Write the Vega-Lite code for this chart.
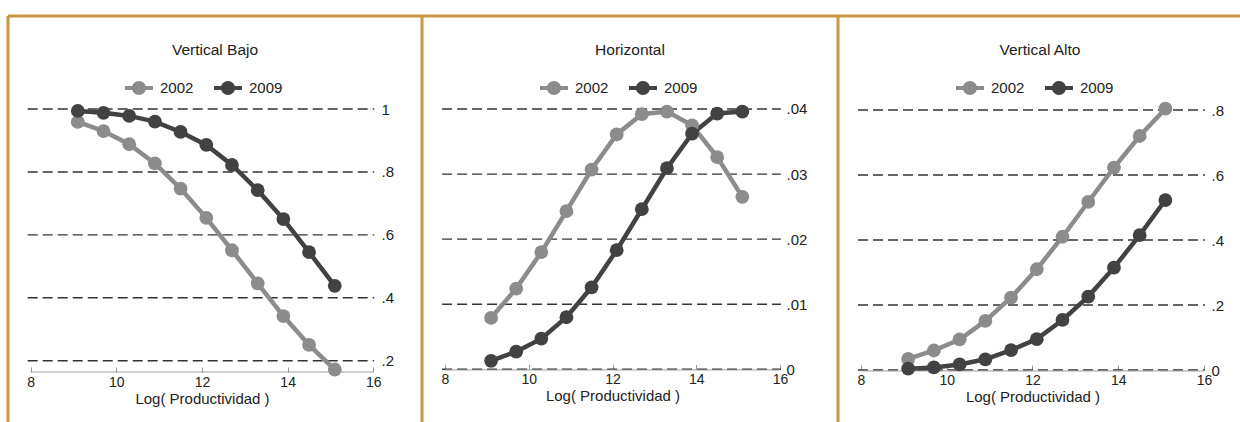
{
  "$schema": "https://vega.github.io/schema/vega-lite/v6.json",
  "background": "white",
  "padding": {"left": 6, "top": 14, "right": 0, "bottom": 0},
  "spacing": 0,
  "bounds": "flush",
  "datasets": {
    "curves": [
      {"p": "VB", "year": "2002", "x": 9.1, "y": 0.959},
      {"p": "VB", "year": "2002", "x": 9.7, "y": 0.930},
      {"p": "VB", "year": "2002", "x": 10.3, "y": 0.888},
      {"p": "VB", "year": "2002", "x": 10.9, "y": 0.827},
      {"p": "VB", "year": "2002", "x": 11.5, "y": 0.747},
      {"p": "VB", "year": "2002", "x": 12.1, "y": 0.654},
      {"p": "VB", "year": "2002", "x": 12.7, "y": 0.551},
      {"p": "VB", "year": "2002", "x": 13.3, "y": 0.446},
      {"p": "VB", "year": "2002", "x": 13.9, "y": 0.342},
      {"p": "VB", "year": "2002", "x": 14.5, "y": 0.250},
      {"p": "VB", "year": "2002", "x": 15.1, "y": 0.172},
      {"p": "VB", "year": "2009", "x": 9.1, "y": 0.994},
      {"p": "VB", "year": "2009", "x": 9.7, "y": 0.988},
      {"p": "VB", "year": "2009", "x": 10.3, "y": 0.978},
      {"p": "VB", "year": "2009", "x": 10.9, "y": 0.960},
      {"p": "VB", "year": "2009", "x": 11.5, "y": 0.927},
      {"p": "VB", "year": "2009", "x": 12.1, "y": 0.886},
      {"p": "VB", "year": "2009", "x": 12.7, "y": 0.822},
      {"p": "VB", "year": "2009", "x": 13.3, "y": 0.742},
      {"p": "VB", "year": "2009", "x": 13.9, "y": 0.650},
      {"p": "VB", "year": "2009", "x": 14.5, "y": 0.545},
      {"p": "VB", "year": "2009", "x": 15.1, "y": 0.438},
      {"p": "H", "year": "2002", "x": 9.1, "y": 0.0079},
      {"p": "H", "year": "2002", "x": 9.7, "y": 0.0124},
      {"p": "H", "year": "2002", "x": 10.3, "y": 0.0180},
      {"p": "H", "year": "2002", "x": 10.9, "y": 0.0243},
      {"p": "H", "year": "2002", "x": 11.5, "y": 0.0307},
      {"p": "H", "year": "2002", "x": 12.1, "y": 0.0361},
      {"p": "H", "year": "2002", "x": 12.7, "y": 0.0392},
      {"p": "H", "year": "2002", "x": 13.3, "y": 0.0396},
      {"p": "H", "year": "2002", "x": 13.9, "y": 0.0375},
      {"p": "H", "year": "2002", "x": 14.5, "y": 0.0326},
      {"p": "H", "year": "2002", "x": 15.1, "y": 0.0265},
      {"p": "H", "year": "2009", "x": 9.1, "y": 0.0013},
      {"p": "H", "year": "2009", "x": 9.7, "y": 0.0027},
      {"p": "H", "year": "2009", "x": 10.3, "y": 0.0047},
      {"p": "H", "year": "2009", "x": 10.9, "y": 0.0080},
      {"p": "H", "year": "2009", "x": 11.5, "y": 0.0126},
      {"p": "H", "year": "2009", "x": 12.1, "y": 0.0183},
      {"p": "H", "year": "2009", "x": 12.7, "y": 0.0246},
      {"p": "H", "year": "2009", "x": 13.3, "y": 0.0309},
      {"p": "H", "year": "2009", "x": 13.9, "y": 0.0362},
      {"p": "H", "year": "2009", "x": 14.5, "y": 0.0393},
      {"p": "H", "year": "2009", "x": 15.1, "y": 0.0396},
      {"p": "VA", "year": "2002", "x": 9.1, "y": 0.034},
      {"p": "VA", "year": "2002", "x": 9.7, "y": 0.060},
      {"p": "VA", "year": "2002", "x": 10.3, "y": 0.094},
      {"p": "VA", "year": "2002", "x": 10.9, "y": 0.151},
      {"p": "VA", "year": "2002", "x": 11.5, "y": 0.223},
      {"p": "VA", "year": "2002", "x": 12.1, "y": 0.310},
      {"p": "VA", "year": "2002", "x": 12.7, "y": 0.410},
      {"p": "VA", "year": "2002", "x": 13.3, "y": 0.517},
      {"p": "VA", "year": "2002", "x": 13.9, "y": 0.623},
      {"p": "VA", "year": "2002", "x": 14.5, "y": 0.720},
      {"p": "VA", "year": "2002", "x": 15.1, "y": 0.804},
      {"p": "VA", "year": "2009", "x": 9.1, "y": 0.004},
      {"p": "VA", "year": "2009", "x": 9.7, "y": 0.008},
      {"p": "VA", "year": "2009", "x": 10.3, "y": 0.017},
      {"p": "VA", "year": "2009", "x": 10.9, "y": 0.033},
      {"p": "VA", "year": "2009", "x": 11.5, "y": 0.061},
      {"p": "VA", "year": "2009", "x": 12.1, "y": 0.095},
      {"p": "VA", "year": "2009", "x": 12.7, "y": 0.154},
      {"p": "VA", "year": "2009", "x": 13.3, "y": 0.226},
      {"p": "VA", "year": "2009", "x": 13.9, "y": 0.315},
      {"p": "VA", "year": "2009", "x": 14.5, "y": 0.415},
      {"p": "VA", "year": "2009", "x": 15.1, "y": 0.523}
    ],
    "grid": [
      {"p": "VB", "y": 0.2}, {"p": "VB", "y": 0.4}, {"p": "VB", "y": 0.6}, {"p": "VB", "y": 0.8}, {"p": "VB", "y": 1},
      {"p": "H", "y": 0}, {"p": "H", "y": 0.01}, {"p": "H", "y": 0.02}, {"p": "H", "y": 0.03}, {"p": "H", "y": 0.04},
      {"p": "VA", "y": 0}, {"p": "VA", "y": 0.2}, {"p": "VA", "y": 0.4}, {"p": "VA", "y": 0.6}, {"p": "VA", "y": 0.8}
    ]
  },
  "hconcat": [
    {
      "width": 414, "height": 406,
      "view": {"stroke": "#c8963e", "strokeWidth": 3, "strokeDash": [414, 820, 406, 0], "fill": "white"},
      "title": {"text": "Vertical Bajo", "anchor": "middle", "frame": "group", "offset": -49, "baseline": "middle", "fontSize": 15.5, "fontWeight": "normal", "color": "#222"},
      "layer": [
        {
          "data": {"name": "grid"}, "transform": [{"filter": "datum.p == 'VB'"}],
          "mark": {"type": "rule", "color": "#333", "strokeWidth": 1.4, "strokeDash": [10, 5]},
          "encoding": {
            "x": {"datum": 7.93, "type": "quantitative", "scale": {"domain": [7.470, 17.137], "nice": false, "zero": false},
                  "axis": {"values": [8, 10, 12, 14, 16], "domain": false, "grid": false, "tickSize": -5, "tickColor": "#999", "labelFontSize": 14, "labelColor": "#222", "labelFlush": false, "labelOverlap": false, "labelPadding": 8, "offset": -50, "title": "Log( Productividad )", "titleFontSize": 15, "titleFontWeight": "normal", "titleColor": "#222", "titleX": 194, "titleY": 19, "titleBaseline": "top"}},
            "x2": {"datum": 16.02},
            "y": {"field": "y", "type": "quantitative", "scale": {"domain": [0.00515, 1.2956], "nice": false, "zero": false},
                  "axis": {"orient": "right", "values": [0.2, 0.4, 0.6, 0.8, 1], "domain": false, "ticks": false, "grid": false, "labelFontSize": 15, "labelColor": "#222", "labelAlign": "left", "labelBaseline": "middle", "labelPadding": 0, "offset": -41, "title": null, "labelExpr": "datum.value == 0 ? '0' : datum.value < 1 ? substring(toString(datum.value), 1) : toString(datum.value)"}}
          }
        },
        {
          "data": {"values": [{}]},
          "mark": {"type": "rule", "color": "#a0a0a0", "strokeWidth": 1},
          "encoding": {
            "x": {"datum": 8, "type": "quantitative", "scale": {"domain": [7.470, 17.137], "nice": false, "zero": false},
                  "axis": {"values": [8, 10, 12, 14, 16], "domain": false, "grid": false, "tickSize": -5, "tickColor": "#999", "labelFontSize": 14, "labelColor": "#222", "labelFlush": false, "labelOverlap": false, "labelPadding": 8, "offset": -50, "title": "Log( Productividad )", "titleFontSize": 15, "titleFontWeight": "normal", "titleColor": "#222", "titleX": 194, "titleY": 19, "titleBaseline": "top"}},
            "x2": {"datum": 16},
            "y": {"datum": 0.164, "type": "quantitative", "scale": {"domain": [0.00515, 1.2956], "nice": false, "zero": false},
                  "axis": {"orient": "right", "values": [0.2, 0.4, 0.6, 0.8, 1], "domain": false, "ticks": false, "grid": false, "labelFontSize": 15, "labelColor": "#222", "labelAlign": "left", "labelBaseline": "middle", "labelPadding": 0, "offset": -41, "title": null, "labelExpr": "datum.value == 0 ? '0' : datum.value < 1 ? substring(toString(datum.value), 1) : toString(datum.value)"}}
          }
        },
        {
          "data": {"name": "curves"}, "transform": [{"filter": "datum.p == 'VB'"}],
          "mark": {"type": "line", "strokeWidth": 4.5},
          "encoding": {
            "x": {"field": "x", "type": "quantitative", "scale": {"domain": [7.470, 17.137], "nice": false, "zero": false},
                  "axis": {"values": [8, 10, 12, 14, 16], "domain": false, "grid": false, "tickSize": -5, "tickColor": "#999", "labelFontSize": 14, "labelColor": "#222", "labelFlush": false, "labelOverlap": false, "labelPadding": 8, "offset": -50, "title": "Log( Productividad )", "titleFontSize": 15, "titleFontWeight": "normal", "titleColor": "#222", "titleX": 194, "titleY": 19, "titleBaseline": "top"}},
            "y": {"field": "y", "type": "quantitative", "scale": {"domain": [0.00515, 1.2956], "nice": false, "zero": false},
                  "axis": {"orient": "right", "values": [0.2, 0.4, 0.6, 0.8, 1], "domain": false, "ticks": false, "grid": false, "labelFontSize": 15, "labelColor": "#222", "labelAlign": "left", "labelBaseline": "middle", "labelPadding": 0, "offset": -41, "title": null, "labelExpr": "datum.value == 0 ? '0' : datum.value < 1 ? substring(toString(datum.value), 1) : toString(datum.value)"}},
            "color": {"field": "year", "type": "nominal", "scale": {"domain": ["2002", "2009"], "range": ["#8c8c8e", "#414244"]},
                      "legend": {"title": null, "orient": "none", "legendX": 117, "legendY": 58, "direction": "horizontal", "columns": 2, "columnPadding": 20, "padding": 0, "labelOffset": 7, "labelFontSize": 15, "labelColor": "#222", "symbolType": "M-1,-0.15L1,-0.15L1,0.15L-1,0.15Z M-0.5,0A0.5,0.5 0 1,1 0.5,0A0.5,0.5 0 1,1 -0.5,0Z", "symbolSize": 784, "symbolStrokeWidth": 0,
                        "encode": {"symbols": {"update": {"fill": {"signal": "datum.value == '2002' ? '#8c8c8e' : '#414244'"}, "stroke": {"value": "transparent"}, "strokeWidth": {"value": 0}, "opacity": {"value": 1}, "size": {"value": 784}, "shape": {"value": "M-1,-0.15L1,-0.15L1,0.15L-1,0.15Z M-0.5,0A0.5,0.5 0 1,1 0.5,0A0.5,0.5 0 1,1 -0.5,0Z"}}}}}}
          }
        },
        {
          "data": {"name": "curves"}, "transform": [{"filter": "datum.p == 'VB'"}],
          "mark": {"type": "point", "filled": true, "size": 190, "opacity": 1},
          "encoding": {
            "x": {"field": "x", "type": "quantitative", "scale": {"domain": [7.470, 17.137], "nice": false, "zero": false},
                  "axis": {"values": [8, 10, 12, 14, 16], "domain": false, "grid": false, "tickSize": -5, "tickColor": "#999", "labelFontSize": 14, "labelColor": "#222", "labelFlush": false, "labelOverlap": false, "labelPadding": 8, "offset": -50, "title": "Log( Productividad )", "titleFontSize": 15, "titleFontWeight": "normal", "titleColor": "#222", "titleX": 194, "titleY": 19, "titleBaseline": "top"}},
            "y": {"field": "y", "type": "quantitative", "scale": {"domain": [0.00515, 1.2956], "nice": false, "zero": false},
                  "axis": {"orient": "right", "values": [0.2, 0.4, 0.6, 0.8, 1], "domain": false, "ticks": false, "grid": false, "labelFontSize": 15, "labelColor": "#222", "labelAlign": "left", "labelBaseline": "middle", "labelPadding": 0, "offset": -41, "title": null, "labelExpr": "datum.value == 0 ? '0' : datum.value < 1 ? substring(toString(datum.value), 1) : toString(datum.value)"}},
            "color": {"field": "year", "type": "nominal", "scale": {"domain": ["2002", "2009"], "range": ["#8c8c8e", "#414244"]},
                      "legend": {"title": null, "orient": "none", "legendX": 117, "legendY": 58, "direction": "horizontal", "columns": 2, "columnPadding": 20, "padding": 0, "labelOffset": 7, "labelFontSize": 15, "labelColor": "#222", "symbolType": "M-1,-0.15L1,-0.15L1,0.15L-1,0.15Z M-0.5,0A0.5,0.5 0 1,1 0.5,0A0.5,0.5 0 1,1 -0.5,0Z", "symbolSize": 784, "symbolStrokeWidth": 0,
                        "encode": {"symbols": {"update": {"fill": {"signal": "datum.value == '2002' ? '#8c8c8e' : '#414244'"}, "stroke": {"value": "transparent"}, "strokeWidth": {"value": 0}, "opacity": {"value": 1}, "size": {"value": 784}, "shape": {"value": "M-1,-0.15L1,-0.15L1,0.15L-1,0.15Z M-0.5,0A0.5,0.5 0 1,1 0.5,0A0.5,0.5 0 1,1 -0.5,0Z"}}}}}}
          }
        }
      ]
    },
    {
      "width": 416, "height": 406,
      "view": {"stroke": "#c8963e", "strokeWidth": 3, "strokeDash": [416, 822, 406, 0], "fill": "white"},
      "title": {"text": "Horizontal", "anchor": "middle", "frame": "group", "offset": -49, "baseline": "middle", "fontSize": 15.5, "fontWeight": "normal", "color": "#222"},
      "layer": [
        {
          "data": {"name": "grid"}, "transform": [{"filter": "datum.p == 'H'"}],
          "mark": {"type": "rule", "color": "#333", "strokeWidth": 1.4, "strokeDash": [10, 5]},
          "encoding": {
            "x": {"datum": 7.93, "type": "quantitative", "scale": {"domain": [7.4507, 17.385], "nice": false, "zero": false},
                  "axis": {"values": [8, 10, 12, 14, 16], "domain": false, "grid": false, "tickSize": -5, "tickColor": "#999", "labelFontSize": 14, "labelColor": "#222", "labelFlush": false, "labelOverlap": false, "labelPadding": 8, "offset": -52.5, "title": "Log( Productividad )", "titleFontSize": 15, "titleFontWeight": "normal", "titleColor": "#222", "titleX": 190.5, "titleY": 19, "titleBaseline": "top"}},
            "x2": {"datum": 16.02},
            "y": {"field": "y", "type": "quantitative", "scale": {"domain": [-0.008098, 0.054291], "nice": false, "zero": false},
                  "axis": {"orient": "right", "values": [0, 0.01, 0.02, 0.03, 0.04], "domain": false, "ticks": false, "grid": false, "labelFontSize": 15, "labelColor": "#222", "labelAlign": "left", "labelBaseline": "middle", "labelPadding": 0, "offset": -52, "title": null, "labelExpr": "datum.value == 0 ? '0' : datum.value < 1 ? substring(toString(datum.value), 1) : toString(datum.value)"}}
          }
        },
        {
          "data": {"values": [{}]},
          "mark": {"type": "rule", "color": "#a0a0a0", "strokeWidth": 1},
          "encoding": {
            "x": {"datum": 8, "type": "quantitative", "scale": {"domain": [7.4507, 17.385], "nice": false, "zero": false},
                  "axis": {"values": [8, 10, 12, 14, 16], "domain": false, "grid": false, "tickSize": -5, "tickColor": "#999", "labelFontSize": 14, "labelColor": "#222", "labelFlush": false, "labelOverlap": false, "labelPadding": 8, "offset": -52.5, "title": "Log( Productividad )", "titleFontSize": 15, "titleFontWeight": "normal", "titleColor": "#222", "titleX": 190.5, "titleY": 19, "titleBaseline": "top"}},
            "x2": {"datum": 16},
            "y": {"datum": -0.0001, "type": "quantitative", "scale": {"domain": [-0.008098, 0.054291], "nice": false, "zero": false},
                  "axis": {"orient": "right", "values": [0, 0.01, 0.02, 0.03, 0.04], "domain": false, "ticks": false, "grid": false, "labelFontSize": 15, "labelColor": "#222", "labelAlign": "left", "labelBaseline": "middle", "labelPadding": 0, "offset": -52, "title": null, "labelExpr": "datum.value == 0 ? '0' : datum.value < 1 ? substring(toString(datum.value), 1) : toString(datum.value)"}}
          }
        },
        {
          "data": {"name": "curves"}, "transform": [{"filter": "datum.p == 'H'"}],
          "mark": {"type": "line", "strokeWidth": 4.5},
          "encoding": {
            "x": {"field": "x", "type": "quantitative", "scale": {"domain": [7.4507, 17.385], "nice": false, "zero": false},
                  "axis": {"values": [8, 10, 12, 14, 16], "domain": false, "grid": false, "tickSize": -5, "tickColor": "#999", "labelFontSize": 14, "labelColor": "#222", "labelFlush": false, "labelOverlap": false, "labelPadding": 8, "offset": -52.5, "title": "Log( Productividad )", "titleFontSize": 15, "titleFontWeight": "normal", "titleColor": "#222", "titleX": 190.5, "titleY": 19, "titleBaseline": "top"}},
            "y": {"field": "y", "type": "quantitative", "scale": {"domain": [-0.008098, 0.054291], "nice": false, "zero": false},
                  "axis": {"orient": "right", "values": [0, 0.01, 0.02, 0.03, 0.04], "domain": false, "ticks": false, "grid": false, "labelFontSize": 15, "labelColor": "#222", "labelAlign": "left", "labelBaseline": "middle", "labelPadding": 0, "offset": -52, "title": null, "labelExpr": "datum.value == 0 ? '0' : datum.value < 1 ? substring(toString(datum.value), 1) : toString(datum.value)"}},
            "color": {"field": "year", "type": "nominal", "scale": {"domain": ["2002", "2009"], "range": ["#8c8c8e", "#414244"]},
                      "legend": {"title": null, "orient": "none", "legendX": 118, "legendY": 58, "direction": "horizontal", "columns": 2, "columnPadding": 20, "padding": 0, "labelOffset": 7, "labelFontSize": 15, "labelColor": "#222", "symbolType": "M-1,-0.15L1,-0.15L1,0.15L-1,0.15Z M-0.5,0A0.5,0.5 0 1,1 0.5,0A0.5,0.5 0 1,1 -0.5,0Z", "symbolSize": 784, "symbolStrokeWidth": 0,
                        "encode": {"symbols": {"update": {"fill": {"signal": "datum.value == '2002' ? '#8c8c8e' : '#414244'"}, "stroke": {"value": "transparent"}, "strokeWidth": {"value": 0}, "opacity": {"value": 1}, "size": {"value": 784}, "shape": {"value": "M-1,-0.15L1,-0.15L1,0.15L-1,0.15Z M-0.5,0A0.5,0.5 0 1,1 0.5,0A0.5,0.5 0 1,1 -0.5,0Z"}}}}}}
          }
        },
        {
          "data": {"name": "curves"}, "transform": [{"filter": "datum.p == 'H'"}],
          "mark": {"type": "point", "filled": true, "size": 190, "opacity": 1},
          "encoding": {
            "x": {"field": "x", "type": "quantitative", "scale": {"domain": [7.4507, 17.385], "nice": false, "zero": false},
                  "axis": {"values": [8, 10, 12, 14, 16], "domain": false, "grid": false, "tickSize": -5, "tickColor": "#999", "labelFontSize": 14, "labelColor": "#222", "labelFlush": false, "labelOverlap": false, "labelPadding": 8, "offset": -52.5, "title": "Log( Productividad )", "titleFontSize": 15, "titleFontWeight": "normal", "titleColor": "#222", "titleX": 190.5, "titleY": 19, "titleBaseline": "top"}},
            "y": {"field": "y", "type": "quantitative", "scale": {"domain": [-0.008098, 0.054291], "nice": false, "zero": false},
                  "axis": {"orient": "right", "values": [0, 0.01, 0.02, 0.03, 0.04], "domain": false, "ticks": false, "grid": false, "labelFontSize": 15, "labelColor": "#222", "labelAlign": "left", "labelBaseline": "middle", "labelPadding": 0, "offset": -52, "title": null, "labelExpr": "datum.value == 0 ? '0' : datum.value < 1 ? substring(toString(datum.value), 1) : toString(datum.value)"}},
            "color": {"field": "year", "type": "nominal", "scale": {"domain": ["2002", "2009"], "range": ["#8c8c8e", "#414244"]},
                      "legend": {"title": null, "orient": "none", "legendX": 118, "legendY": 58, "direction": "horizontal", "columns": 2, "columnPadding": 20, "padding": 0, "labelOffset": 7, "labelFontSize": 15, "labelColor": "#222", "symbolType": "M-1,-0.15L1,-0.15L1,0.15L-1,0.15Z M-0.5,0A0.5,0.5 0 1,1 0.5,0A0.5,0.5 0 1,1 -0.5,0Z", "symbolSize": 784, "symbolStrokeWidth": 0,
                        "encode": {"symbols": {"update": {"fill": {"signal": "datum.value == '2002' ? '#8c8c8e' : '#414244'"}, "stroke": {"value": "transparent"}, "strokeWidth": {"value": 0}, "opacity": {"value": 1}, "size": {"value": 784}, "shape": {"value": "M-1,-0.15L1,-0.15L1,0.15L-1,0.15Z M-0.5,0A0.5,0.5 0 1,1 0.5,0A0.5,0.5 0 1,1 -0.5,0Z"}}}}}}
          }
        }
      ]
    },
    {
      "width": 404, "height": 408,
      "view": {"stroke": "#c8963e", "strokeWidth": 3, "strokeDash": [404, 812, 408, 0], "fill": "white"},
      "title": {"text": "Vertical Alto", "anchor": "middle", "frame": "group", "offset": -49, "baseline": "middle", "fontSize": 15.5, "fontWeight": "normal", "color": "#222"},
      "layer": [
        {
          "data": {"name": "grid"}, "transform": [{"filter": "datum.p == 'VA'"}],
          "mark": {"type": "rule", "color": "#333", "strokeWidth": 1.4, "strokeDash": [10, 5]},
          "encoding": {
            "x": {"datum": 7.93, "type": "quantitative", "scale": {"domain": [7.4636, 16.8863], "nice": false, "zero": false},
                  "axis": {"values": [8, 10, 12, 14, 16], "domain": false, "grid": false, "tickSize": -5, "tickColor": "#999", "labelFontSize": 14, "labelColor": "#222", "labelFlush": false, "labelOverlap": false, "labelPadding": 8, "offset": -54, "title": "Log( Productividad )", "titleFontSize": 15, "titleFontWeight": "normal", "titleColor": "#222", "titleX": 194.5, "titleY": 19, "titleBaseline": "top"}},
            "x2": {"datum": 16.02},
            "y": {"field": "y", "type": "quantitative", "scale": {"domain": [-0.16615, 1.08923], "nice": false, "zero": false},
                  "axis": {"orient": "right", "values": [0, 0.2, 0.4, 0.6, 0.8], "domain": false, "ticks": false, "grid": false, "labelFontSize": 15, "labelColor": "#222", "labelAlign": "left", "labelBaseline": "middle", "labelPadding": 0, "offset": -31, "title": null, "labelExpr": "datum.value == 0 ? '0' : datum.value < 1 ? substring(toString(datum.value), 1) : toString(datum.value)"}}
          }
        },
        {
          "data": {"values": [{}]},
          "mark": {"type": "rule", "color": "#a0a0a0", "strokeWidth": 1},
          "encoding": {
            "x": {"datum": 8, "type": "quantitative", "scale": {"domain": [7.4636, 16.8863], "nice": false, "zero": false},
                  "axis": {"values": [8, 10, 12, 14, 16], "domain": false, "grid": false, "tickSize": -5, "tickColor": "#999", "labelFontSize": 14, "labelColor": "#222", "labelFlush": false, "labelOverlap": false, "labelPadding": 8, "offset": -54, "title": "Log( Productividad )", "titleFontSize": 15, "titleFontWeight": "normal", "titleColor": "#222", "titleX": 194.5, "titleY": 19, "titleBaseline": "top"}},
            "x2": {"datum": 16},
            "y": {"datum": -0.003, "type": "quantitative", "scale": {"domain": [-0.16615, 1.08923], "nice": false, "zero": false},
                  "axis": {"orient": "right", "values": [0, 0.2, 0.4, 0.6, 0.8], "domain": false, "ticks": false, "grid": false, "labelFontSize": 15, "labelColor": "#222", "labelAlign": "left", "labelBaseline": "middle", "labelPadding": 0, "offset": -31, "title": null, "labelExpr": "datum.value == 0 ? '0' : datum.value < 1 ? substring(toString(datum.value), 1) : toString(datum.value)"}}
          }
        },
        {
          "data": {"name": "curves"}, "transform": [{"filter": "datum.p == 'VA'"}],
          "mark": {"type": "line", "strokeWidth": 4.5},
          "encoding": {
            "x": {"field": "x", "type": "quantitative", "scale": {"domain": [7.4636, 16.8863], "nice": false, "zero": false},
                  "axis": {"values": [8, 10, 12, 14, 16], "domain": false, "grid": false, "tickSize": -5, "tickColor": "#999", "labelFontSize": 14, "labelColor": "#222", "labelFlush": false, "labelOverlap": false, "labelPadding": 8, "offset": -54, "title": "Log( Productividad )", "titleFontSize": 15, "titleFontWeight": "normal", "titleColor": "#222", "titleX": 194.5, "titleY": 19, "titleBaseline": "top"}},
            "y": {"field": "y", "type": "quantitative", "scale": {"domain": [-0.16615, 1.08923], "nice": false, "zero": false},
                  "axis": {"orient": "right", "values": [0, 0.2, 0.4, 0.6, 0.8], "domain": false, "ticks": false, "grid": false, "labelFontSize": 15, "labelColor": "#222", "labelAlign": "left", "labelBaseline": "middle", "labelPadding": 0, "offset": -31, "title": null, "labelExpr": "datum.value == 0 ? '0' : datum.value < 1 ? substring(toString(datum.value), 1) : toString(datum.value)"}},
            "color": {"field": "year", "type": "nominal", "scale": {"domain": ["2002", "2009"], "range": ["#8c8c8e", "#414244"]},
                      "legend": {"title": null, "orient": "none", "legendX": 118, "legendY": 58, "direction": "horizontal", "columns": 2, "columnPadding": 20, "padding": 0, "labelOffset": 7, "labelFontSize": 15, "labelColor": "#222", "symbolType": "M-1,-0.15L1,-0.15L1,0.15L-1,0.15Z M-0.5,0A0.5,0.5 0 1,1 0.5,0A0.5,0.5 0 1,1 -0.5,0Z", "symbolSize": 784, "symbolStrokeWidth": 0,
                        "encode": {"symbols": {"update": {"fill": {"signal": "datum.value == '2002' ? '#8c8c8e' : '#414244'"}, "stroke": {"value": "transparent"}, "strokeWidth": {"value": 0}, "opacity": {"value": 1}, "size": {"value": 784}, "shape": {"value": "M-1,-0.15L1,-0.15L1,0.15L-1,0.15Z M-0.5,0A0.5,0.5 0 1,1 0.5,0A0.5,0.5 0 1,1 -0.5,0Z"}}}}}}
          }
        },
        {
          "data": {"name": "curves"}, "transform": [{"filter": "datum.p == 'VA'"}],
          "mark": {"type": "point", "filled": true, "size": 190, "opacity": 1},
          "encoding": {
            "x": {"field": "x", "type": "quantitative", "scale": {"domain": [7.4636, 16.8863], "nice": false, "zero": false},
                  "axis": {"values": [8, 10, 12, 14, 16], "domain": false, "grid": false, "tickSize": -5, "tickColor": "#999", "labelFontSize": 14, "labelColor": "#222", "labelFlush": false, "labelOverlap": false, "labelPadding": 8, "offset": -54, "title": "Log( Productividad )", "titleFontSize": 15, "titleFontWeight": "normal", "titleColor": "#222", "titleX": 194.5, "titleY": 19, "titleBaseline": "top"}},
            "y": {"field": "y", "type": "quantitative", "scale": {"domain": [-0.16615, 1.08923], "nice": false, "zero": false},
                  "axis": {"orient": "right", "values": [0, 0.2, 0.4, 0.6, 0.8], "domain": false, "ticks": false, "grid": false, "labelFontSize": 15, "labelColor": "#222", "labelAlign": "left", "labelBaseline": "middle", "labelPadding": 0, "offset": -31, "title": null, "labelExpr": "datum.value == 0 ? '0' : datum.value < 1 ? substring(toString(datum.value), 1) : toString(datum.value)"}},
            "color": {"field": "year", "type": "nominal", "scale": {"domain": ["2002", "2009"], "range": ["#8c8c8e", "#414244"]},
                      "legend": {"title": null, "orient": "none", "legendX": 118, "legendY": 58, "direction": "horizontal", "columns": 2, "columnPadding": 20, "padding": 0, "labelOffset": 7, "labelFontSize": 15, "labelColor": "#222", "symbolType": "M-1,-0.15L1,-0.15L1,0.15L-1,0.15Z M-0.5,0A0.5,0.5 0 1,1 0.5,0A0.5,0.5 0 1,1 -0.5,0Z", "symbolSize": 784, "symbolStrokeWidth": 0,
                        "encode": {"symbols": {"update": {"fill": {"signal": "datum.value == '2002' ? '#8c8c8e' : '#414244'"}, "stroke": {"value": "transparent"}, "strokeWidth": {"value": 0}, "opacity": {"value": 1}, "size": {"value": 784}, "shape": {"value": "M-1,-0.15L1,-0.15L1,0.15L-1,0.15Z M-0.5,0A0.5,0.5 0 1,1 0.5,0A0.5,0.5 0 1,1 -0.5,0Z"}}}}}}
          }
        }
      ]
    }
  ],
  "resolve": {"scale": {"x": "independent", "y": "independent", "color": "independent"}, "legend": {"color": "independent"}, "axis": {"x": "independent", "y": "independent"}},
  "config": {"font": "Liberation Sans", "view": {"stroke": null}}
}
